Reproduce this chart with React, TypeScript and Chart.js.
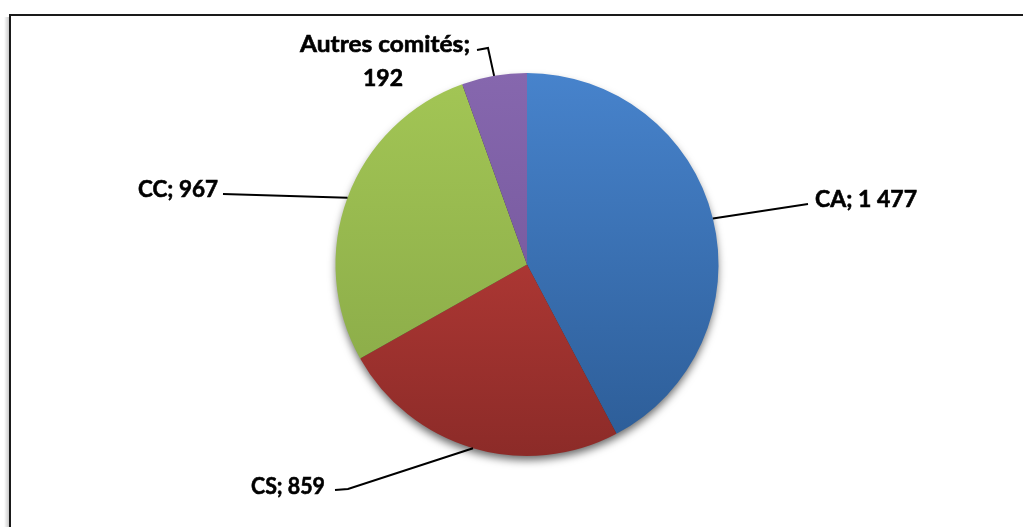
import React, { useEffect, useRef } from "react";
import { Chart, registerables } from "chart.js";

Chart.register(...registerables);

const categories = ["CA", "CS", "CC", "Autres comités"];
const values = [1477, 859, 967, 192];
const valueLabels = ["1 477", "859", "967", "192"];
const colorsTop = ["#4783CC", "#CA423E", "#A3C655", "#8667AE"];
const colorsBottom = ["#2C5C96", "#8C2B28", "#86A646", "#6D5194"];

// label layout (text placement + leader elbows)
const labelLayout = [
  { lines: [{ x: 815, y: 207, w: 102 }], path: [[808, 204]] },
  { lines: [{ x: 251, y: 494, w: 74 }], path: [[348, 489], [335, 490]] },
  { lines: [{ x: 138, y: 197, w: 80 }], path: [[223, 194]] },
  {
    lines: [
      { x: 300, y: 52, w: 170 },
      { x: 363, y: 86, w: 40 },
    ],
    path: [[488, 48], [477, 50]],
  },
];

const FONT = "bold 23px Lato, 'Open Sans', sans-serif";

const framePlugin = {
  id: "frame",
  beforeDraw(chart: any) {
    const ctx = chart.ctx;
    ctx.save();
    const g = ctx.createLinearGradient(4, 0, 10, 0);
    g.addColorStop(0, "rgba(0,0,0,0)");
    g.addColorStop(1, "rgba(0,0,0,0.25)");
    ctx.fillStyle = g;
    ctx.fillRect(4, 17, 6, 520);
    ctx.strokeStyle = "#1a1a1a";
    ctx.lineWidth = 2;
    ctx.beginPath();
    ctx.moveTo(10, 540);
    ctx.lineTo(10, 15);
    ctx.lineTo(1040, 15);
    ctx.stroke();
    ctx.restore();
  },
  beforeDatasetsDraw(chart: any) {
    const meta = chart.getDatasetMeta(0);
    const arc = meta.data[0];
    if (!arc) return;
    const ctx = chart.ctx;
    ctx.save();
    ctx.shadowColor = "rgba(0,0,0,0.6)";
    ctx.shadowBlur = 8;
    ctx.shadowOffsetY = 5;
    ctx.fillStyle = "#333";
    ctx.beginPath();
    ctx.arc(arc.x, arc.y, arc.outerRadius - 1, 0, Math.PI * 2);
    ctx.fill();
    ctx.restore();
  },
  afterDatasetsDraw(chart: any) {
    const meta = chart.getDatasetMeta(0);
    const ctx = chart.ctx;
    ctx.save();
    meta.data.forEach((arc: any, i: number) => {
      const mid = (arc.startAngle + arc.endAngle) / 2;
      const sx = arc.x + Math.cos(mid) * arc.outerRadius;
      const sy = arc.y + Math.sin(mid) * arc.outerRadius;
      const lay = labelLayout[i];
      ctx.strokeStyle = "#000";
      ctx.lineWidth = 2;
      ctx.beginPath();
      ctx.moveTo(sx, sy);
      lay.path.forEach((p) => ctx.lineTo(p[0], p[1]));
      ctx.stroke();
      const texts =
        lay.lines.length === 2
          ? [categories[i] + ";", valueLabels[i]]
          : [categories[i] + "; " + valueLabels[i]];
      ctx.fillStyle = "#000";
      ctx.font = FONT;
      ctx.textBaseline = "alphabetic";
      ctx.textAlign = "left";
      texts.forEach((t, j) => {
        const L = lay.lines[j];
        const mw = ctx.measureText(t).width;
        const s = L.w / mw;
        ctx.save();
        ctx.translate(L.x, L.y);
        ctx.scale(s, 1);
        ctx.fillText(t, 0, 0);
        ctx.lineWidth = 0.6;
        ctx.strokeStyle = "#000";
        ctx.strokeText(t, 0, 0);
        ctx.restore();
      });
    });
    ctx.restore();
  },
};

export default function App() {
  const ref = useRef<HTMLCanvasElement | null>(null);
  useEffect(() => {
    if (!ref.current) return;
    const chart = new Chart(ref.current, {
      type: "pie",
      data: {
        labels: categories,
        datasets: [
          {
            data: values,
            borderWidth: 0,
            backgroundColor: (c: any) => {
              const ch = c.chart;
              const a = ch.chartArea;
              const i = c.dataIndex;
              if (!a) return colorsTop[i];
              const g = ch.ctx.createLinearGradient(0, a.top, 0, a.bottom);
              g.addColorStop(0, colorsTop[i]);
              g.addColorStop(1, colorsBottom[i]);
              return g;
            },
          },
        ],
      },
      options: {
        animation: false,
        responsive: false,
        maintainAspectRatio: false,
        layout: { padding: { left: 335, right: 304, top: 73, bottom: 71 } },
        plugins: {
          legend: { display: false },
          tooltip: { enabled: false },
          title: { display: false },
        },
      },
      plugins: [framePlugin],
    });
    return () => chart.destroy();
  }, []);
  return (
    <div style={{ position: "fixed", left: 0, top: 0, width: 1023, height: 527, background: "#fff" }}>
      <canvas ref={ref} width={1023} height={527} style={{ width: 1023, height: 527 }} />
    </div>
  );
}
